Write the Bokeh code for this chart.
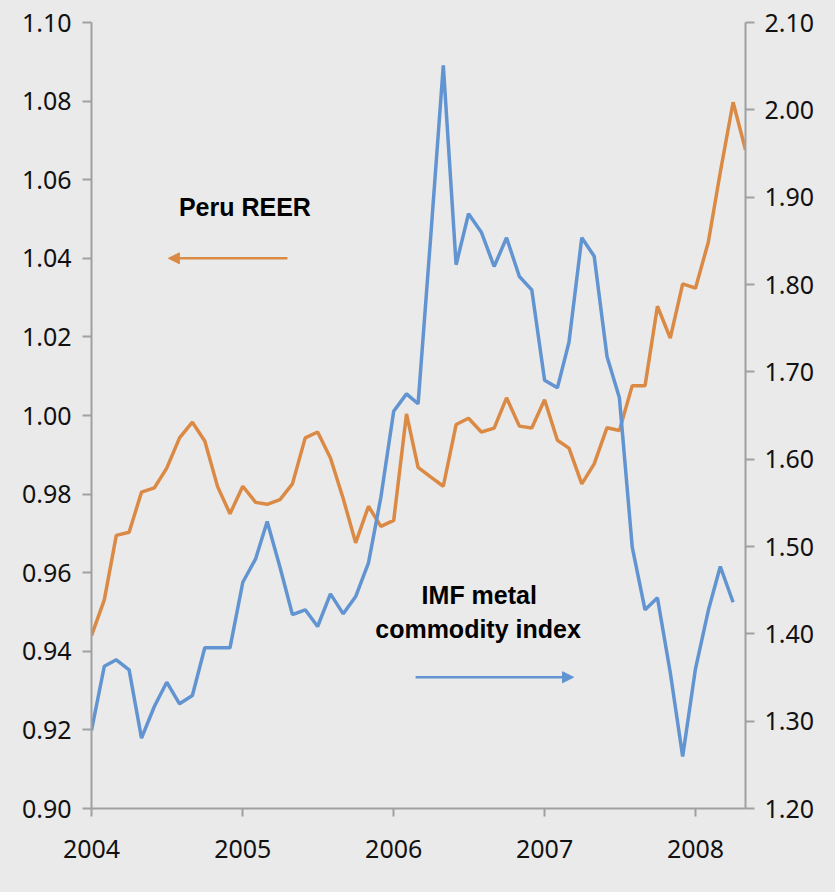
import numpy as np
import pandas as pd
from bokeh.plotting import figure
from bokeh.models import (Range1d, LinearAxis, FixedTicker, NumeralTickFormatter,
                          DatetimeTickFormatter, Arrow, NormalHead, Label)
from bokeh.embed import file_html
from bokeh.resources import INLINE

# ---------------- data ----------------
start_month = "2004-01-01"
years = [2004, 2005, 2006, 2007, 2008]
reer = [0.9440, 0.9531, 0.9695, 0.9703, 0.9805, 0.9816, 0.9866, 0.9943, 0.9983, 0.9935,
        0.9819, 0.9750, 0.9820, 0.9779, 0.9774, 0.9786, 0.9826, 0.9943, 0.9958, 0.9892,
        0.9788, 0.9676, 0.9769, 0.9718, 0.9733, 1.0004, 0.9868, 0.9843, 0.9820, 0.9977,
        0.9993, 0.9958, 0.9968, 1.0045, 0.9973, 0.9968, 1.0040, 0.9937, 0.9917, 0.9826,
        0.9877, 0.9969, 0.9962, 1.0076, 1.0076, 1.0278, 1.0197, 1.0335, 1.0324, 1.0441,
        1.0619, 1.0797, 1.0676]
metal = [1.2893, 1.3629, 1.3703, 1.3588, 1.2805, 1.3168, 1.3446, 1.3199, 1.3294, 1.3840,
         1.3840, 1.3840, 1.4591, 1.4859, 1.5286, 1.4763, 1.4221, 1.4275, 1.4084, 1.4458,
         1.4229, 1.4427, 1.4813, 1.5564, 1.6549, 1.6748, 1.6634, 1.8577, 2.0508, 1.8226,
         1.8810, 1.8599, 1.8206, 1.8535, 1.8092, 1.7939, 1.6905, 1.6817, 1.7339, 1.8535,
         1.8324, 1.7176, 1.6703, 1.4992, 1.4275, 1.4412, 1.3557, 1.2595, 1.3600, 1.4267,
         1.4771, 1.4362]
left_ticks = [0.90, 0.92, 0.94, 0.96, 0.98, 1.00, 1.02, 1.04, 1.06, 1.08, 1.10]
right_ticks = [1.20, 1.30, 1.40, 1.50, 1.60, 1.70, 1.80, 1.90, 2.00, 2.10]

months_reer = pd.date_range(start_month, periods=len(reer), freq="MS")
months_metal = pd.date_range(start_month, periods=len(metal), freq="MS")

def ms(ts):
    return pd.Timestamp(ts).value / 1e6

ORANGE = "#DB8A45"
BLUE = "#6194D1"
BG = "#EAEAEA"
AXIS = "#A0A0A0"
TICK_FONT = "Noto Sans"

p = figure(width=835, height=892, output_backend="svg", toolbar_location=None,
           x_axis_type="datetime",
           x_range=Range1d(ms("2004-01-01"), ms(months_reer[-1])),
           y_range=Range1d(0.90, 1.10),
           min_border_left=91, min_border_right=90, min_border_top=22, min_border_bottom=84)
p.extra_y_ranges = {"metal": Range1d(1.20, 2.10)}
p.background_fill_color = BG
p.border_fill_color = BG
p.outline_line_color = None
p.grid.visible = False

p.line(months_reer, reer, line_color=ORANGE, line_width=3.5)
p.line(months_metal, metal, line_color=BLUE, line_width=3.5, y_range_name="metal")

right = LinearAxis(y_range_name="metal")
p.add_layout(right, "right")

for ax in [p.yaxis[0], right]:
    ax.formatter = NumeralTickFormatter(format="0.00")
    ax.minor_tick_line_color = None
p.yaxis[0].ticker = FixedTicker(ticks=left_ticks)
right.ticker = FixedTicker(ticks=right_ticks)

xa = p.xaxis[0]
xa.ticker = FixedTicker(ticks=[ms(f"{y}-01-01") for y in years])
xa.formatter = DatetimeTickFormatter(years="%Y", months="%Y", days="%Y", hours="%Y",
                                     hourmin="%Y", minutes="%Y", minsec="%Y",
                                     seconds="%Y", milliseconds="%Y", microseconds="%Y")
xa.minor_tick_line_color = None

for ax in [p.yaxis[0], right, xa]:
    ax.axis_line_color = AXIS
    ax.axis_line_width = 2
    ax.major_tick_line_color = AXIS
    ax.major_tick_line_width = 2
    ax.major_tick_in = 0
    ax.major_tick_out = 9
    ax.major_label_text_font = TICK_FONT
    ax.major_label_text_font_size = "25px"
    ax.major_label_text_color = "#111111"
p.yaxis[0].major_label_standoff = 11
right.major_label_standoff = 10
xa.major_tick_out = 8
xa.major_label_standoff = 23

# annotations
p.add_layout(Arrow(end=NormalHead(size=11, fill_color=ORANGE, line_color=ORANGE),
                   x_start=ms("2005-04-19"), y_start=1.04,
                   x_end=ms("2004-07-05"), y_end=1.04,
                   line_color=ORANGE, line_width=2.5))
p.add_layout(Arrow(end=NormalHead(size=11, fill_color=BLUE, line_color=BLUE),
                   x_start=ms("2006-02-23"), y_start=0.9334,
                   x_end=ms("2007-03-12"), y_end=0.9334,
                   line_color=BLUE, line_width=2.5))

lab_style = dict(text_font="Liberation Sans", text_font_style="bold",
                 text_font_size="25px", text_color="#000000",
                 text_align="center", text_baseline="alphabetic")
p.add_layout(Label(x=ms("2005-01-06"), y=1.0530, text="Peru REER", **lab_style))
p.add_layout(Label(x=ms("2006-07-27"), y=0.9544, text="IMF metal", **lab_style))
p.add_layout(Label(x=ms("2006-07-24"), y=0.9457, text="commodity index", **lab_style))

html = file_html(p, INLINE)
html = html.replace("<head>", "<head><style>html,body{margin:0;padding:0;background:#EAEAEA;}</style>", 1)
open("out.html", "w").write(html)
